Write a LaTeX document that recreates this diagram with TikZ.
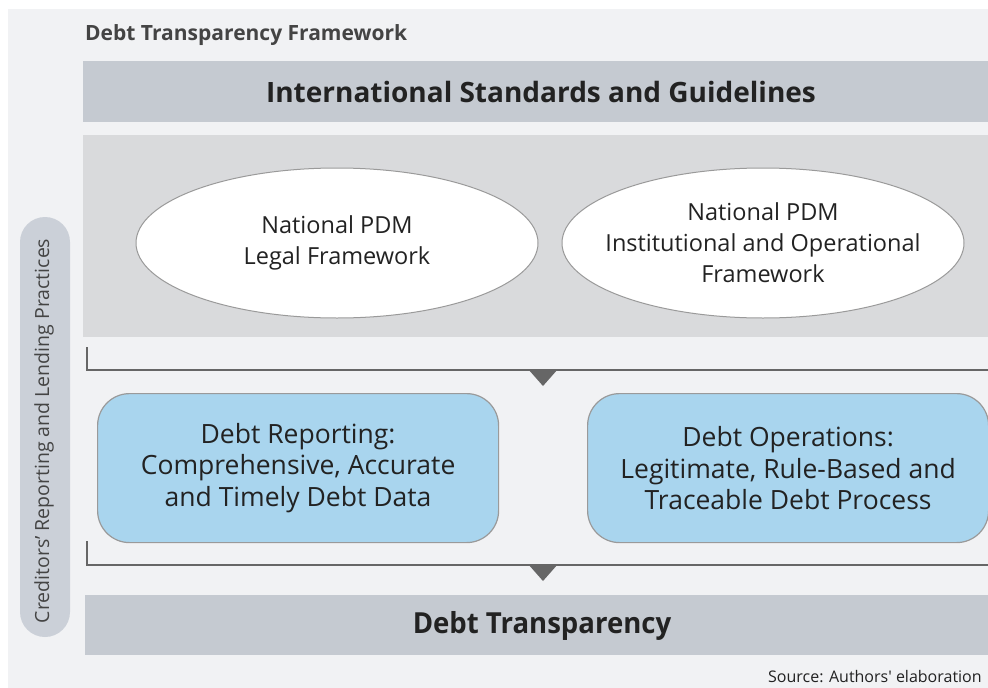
\documentclass[tikz,border=0pt]{standalone}
\usepackage{fontspec}
\setmainfont{Open Sans}
\newfontfamily\srcfont{Open Sans}[Ligatures=TeXOff]
\usetikzlibrary{shapes.geometric}
\definecolor{panelgray}{HTML}{F1F2F4}
\definecolor{bandgray}{HTML}{C5CAD1}
\definecolor{areagray}{HTML}{D9DADC}
\definecolor{pillgray}{HTML}{CBD0D8}
\definecolor{boxblue}{HTML}{A9D5EE}
\definecolor{edgegray}{HTML}{9A9A9A}
\definecolor{linegray}{HTML}{666666}
\definecolor{inkdark}{HTML}{222222}
\definecolor{titlegray}{HTML}{444444}
\tikzset{
  band/.style={fill=bandgray, inner sep=0pt, anchor=north west},
  bandtext/.style={text=inkdark, inner sep=0pt, font=\bfseries\fontsize{28}{32}\selectfont},
  oval/.style={ellipse, draw=edgegray, line width=1pt, fill=white,
    minimum width=402, minimum height=150, inner sep=0pt},
  ovaltext/.style={align=center, inner sep=0pt, text=inkdark,
    font=\fontsize{23.5}{31}\selectfont},
  bluebox/.style={rectangle, rounded corners=32, draw=edgegray, line width=1.2pt,
    fill=boxblue, align=center, minimum width=401, minimum height=149, inner sep=0pt,
    anchor=north west, text=inkdark, font=\fontsize{26.5}{31.5}\selectfont},
  bracket/.style={draw=linegray, line width=2.4pt},
  pointer/.style={fill=linegray}
}
\begin{document}
\begin{tikzpicture}[x=1pt, y=-1pt]
\useasboundingbox (0,0) rectangle (988,688);
\clip (0,0) rectangle (988,688);
% panel
\fill[panelgray] (8,9) rectangle (988,688);
% title
\node[anchor=west, inner sep=0pt, text=titlegray, font=\bfseries\fontsize{21}{24}\selectfont]
  (title) at (85,35) {Debt Transparency Framework};
% international band
\node[band, minimum width=905, minimum height=61] (intl) at (83,61) {};
\node[bandtext] (intltext) at (541,92) {International Standards and Guidelines};
% national area
\fill[areagray] (83,135) rectangle (988,337);
\node[oval] (legal) at (337,243) {};
\node[ovaltext] (legaltext) at (legal.center) {National PDM\\Legal Framework};
\node[oval] (inst) at (763,243) {};
\node[ovaltext] (insttext) at (inst.center) {National PDM\\Institutional and Operational\\Framework};
% first bracket
\coordinate (b1a) at (87,347);
\coordinate (b1b) at (87,370);
\coordinate (b1c) at (988,370);
\draw[bracket] (b1a) -- (b1b) -- (b1c);
\fill[pointer] (528,369) -- (558,369) -- (543,386) -- cycle;
% blue boxes
\node[bluebox] (report) at (97,393) {Debt Reporting:\\Comprehensive, Accurate\\and Timely Debt Data};
\node[bluebox] (ops) at (587,393) {Debt Operations:\\Legitimate, Rule-Based and\\Traceable Debt Process};
% second bracket
\coordinate (b2a) at (87,541);
\coordinate (b2b) at (87,565);
\coordinate (b2c) at (988,565);
\draw[bracket] (b2a) -- (b2b) -- (b2c);
\fill[pointer] (528,564) -- (558,564) -- (543,581) -- cycle;
% transparency band
\node[band, minimum width=903, minimum height=60] (transp) at (85,595) {};
\node[bandtext, font=\bfseries\fontsize{29}{32}\selectfont, xscale=0.95] (transptext) at (542,626)
  {Debt Transparency};
% side pill
\fill[pillgray, rounded corners=25] (20,217) rectangle (70,637);
\node[rotate=90, text=titlegray, font=\fontsize{19.5}{22}\selectfont] (cred) at (44,431)
  {Creditors’ Reporting and Lending Practices};
% source
\node[anchor=west, inner sep=0pt, text=inkdark, font=\srcfont\fontsize{16}{19}\selectfont] (src) at (768,677)
  {Source: Authors' elaboration};
\end{tikzpicture}
\end{document}
